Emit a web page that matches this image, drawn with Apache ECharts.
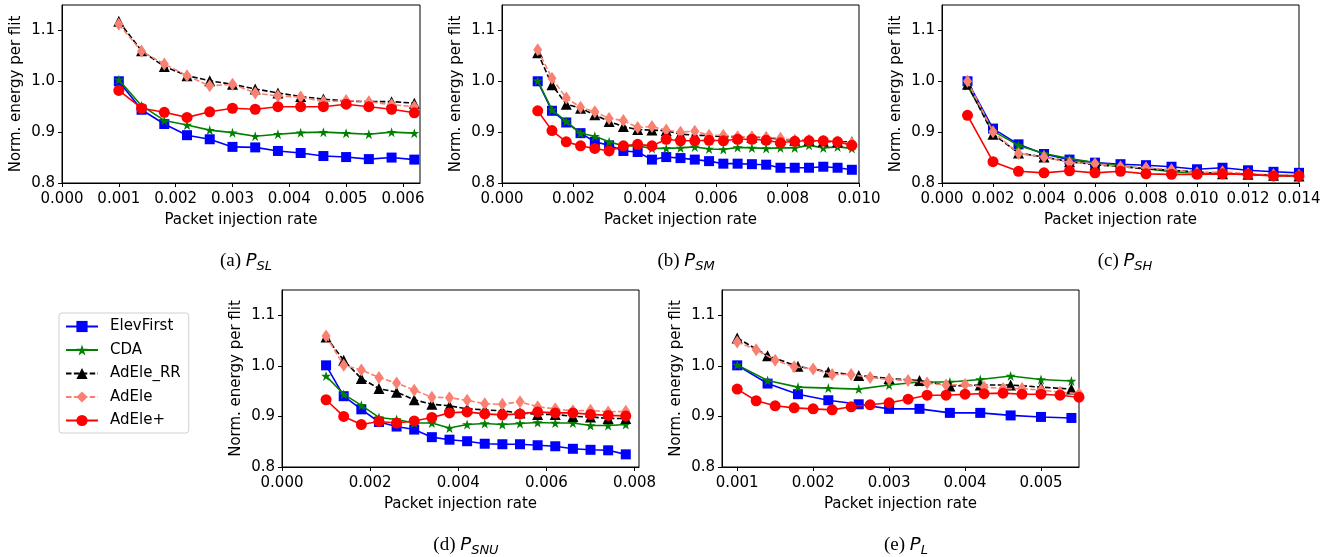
<!DOCTYPE html>
<html>
<head>
<meta charset="utf-8">
<script src="https://cdn.jsdelivr.net/npm/echarts@6/dist/echarts.min.js"></script>
<style>
  html, body { margin: 0; padding: 0; background: #fff; }
  #chart { width: 1336px; height: 557px; }
</style>
</head>
<body>
<div id="chart"></div>
<script>
// ---- data ----
var seriesNames = ['ElevFirst', 'CDA', 'AdEle_RR', 'AdEle', 'AdEle+'];

// (a) P_SL
var xA = [0.001, 0.0014, 0.0018, 0.0022, 0.0026, 0.003, 0.0034, 0.0038, 0.0042, 0.0046, 0.005, 0.0054, 0.0058, 0.0062];
var aElevFirst = [1.000, 0.944, 0.916, 0.894, 0.886, 0.871, 0.870, 0.863, 0.859, 0.853, 0.851, 0.847, 0.850, 0.846];
var aCDA = [1.003, 0.952, 0.923, 0.914, 0.904, 0.899, 0.892, 0.896, 0.899, 0.900, 0.898, 0.896, 0.900, 0.898];
var aRR = [1.118, 1.060, 1.029, 1.011, 1.001, 0.994, 0.985, 0.977, 0.970, 0.965, 0.961, 0.960, 0.960, 0.957];
var aAdEle = [1.112, 1.059, 1.034, 1.011, 0.991, 0.994, 0.977, 0.971, 0.969, 0.960, 0.962, 0.960, 0.954, 0.950];
var aPlus = [0.982, 0.947, 0.939, 0.929, 0.940, 0.947, 0.945, 0.950, 0.950, 0.950, 0.955, 0.950, 0.945, 0.938];

// (b) P_SM
var xB = [0.001, 0.0014, 0.0018, 0.0022, 0.0026, 0.003, 0.0034, 0.0038, 0.0042, 0.0046, 0.005, 0.0054, 0.0058, 0.0062, 0.0066, 0.007, 0.0074, 0.0078, 0.0082, 0.0086, 0.009, 0.0094, 0.0098];
var bElevFirst = [1.000, 0.942, 0.919, 0.898, 0.881, 0.874, 0.863, 0.861, 0.846, 0.851, 0.849, 0.846, 0.843, 0.838, 0.838, 0.837, 0.836, 0.830, 0.830, 0.830, 0.832, 0.830, 0.826];
var bCDA = [1.001, 0.944, 0.921, 0.898, 0.892, 0.881, 0.873, 0.873, 0.868, 0.868, 0.869, 0.871, 0.867, 0.866, 0.870, 0.869, 0.868, 0.869, 0.869, 0.874, 0.869, 0.871, 0.868];
var bRR = [1.056, 0.993, 0.955, 0.947, 0.934, 0.921, 0.911, 0.905, 0.904, 0.903, 0.896, 0.894, 0.893, 0.891, 0.891, 0.890, 0.889, 0.886, 0.884, 0.884, 0.882, 0.881, 0.881];
var bAdEle = [1.062, 1.006, 0.967, 0.949, 0.940, 0.927, 0.923, 0.909, 0.911, 0.904, 0.900, 0.902, 0.894, 0.894, 0.891, 0.891, 0.890, 0.888, 0.884, 0.884, 0.881, 0.881, 0.878];
var bPlus = [0.942, 0.903, 0.881, 0.873, 0.868, 0.863, 0.873, 0.876, 0.873, 0.886, 0.883, 0.883, 0.884, 0.883, 0.886, 0.886, 0.884, 0.879, 0.882, 0.883, 0.883, 0.881, 0.874];

// (c) P_SH
var xC = [0.001, 0.002, 0.003, 0.004, 0.005, 0.006, 0.007, 0.008, 0.009, 0.010, 0.011, 0.012, 0.013, 0.014];
var cElevFirst = [1.000, 0.907, 0.876, 0.857, 0.846, 0.840, 0.837, 0.835, 0.832, 0.827, 0.830, 0.825, 0.822, 0.820];
var cCDA = [0.991, 0.902, 0.874, 0.858, 0.848, 0.840, 0.834, 0.828, 0.822, 0.820, 0.818, 0.817, 0.815, 0.814];
var cRR = [0.994, 0.896, 0.859, 0.851, 0.842, 0.836, 0.832, 0.828, 0.825, 0.822, 0.818, 0.817, 0.815, 0.814];
var cAdEle = [1.000, 0.901, 0.858, 0.851, 0.840, 0.838, 0.832, 0.830, 0.826, 0.820, 0.822, 0.818, 0.816, 0.815];
var cPlus = [0.933, 0.842, 0.823, 0.820, 0.824, 0.820, 0.823, 0.818, 0.817, 0.817, 0.818, 0.817, 0.814, 0.814];

// (d) P_SNU
var xD = [0.001, 0.0014, 0.0018, 0.0022, 0.0026, 0.003, 0.0034, 0.0038, 0.0042, 0.0046, 0.005, 0.0054, 0.0058, 0.0062, 0.0066, 0.007, 0.0074, 0.0078];
var dElevFirst = [1.001, 0.940, 0.914, 0.889, 0.880, 0.874, 0.859, 0.854, 0.851, 0.846, 0.845, 0.845, 0.843, 0.841, 0.836, 0.834, 0.833, 0.825];
var dCDA = [0.980, 0.944, 0.922, 0.898, 0.894, 0.887, 0.887, 0.877, 0.884, 0.886, 0.884, 0.886, 0.888, 0.887, 0.887, 0.882, 0.882, 0.884];
var dRR = [1.057, 1.011, 0.975, 0.955, 0.948, 0.933, 0.924, 0.921, 0.915, 0.913, 0.911, 0.907, 0.904, 0.904, 0.900, 0.899, 0.896, 0.896];
var dAdEle = [1.059, 1.001, 0.992, 0.977, 0.966, 0.952, 0.938, 0.937, 0.932, 0.925, 0.924, 0.929, 0.919, 0.915, 0.911, 0.912, 0.909, 0.910];
var dPlus = [0.933, 0.900, 0.884, 0.890, 0.887, 0.891, 0.898, 0.907, 0.909, 0.905, 0.903, 0.905, 0.909, 0.907, 0.907, 0.904, 0.902, 0.901];

// (e) P_L  (two different sampling grids)
var xE1 = [0.001, 0.0014, 0.0018, 0.0022, 0.0026, 0.003, 0.0034, 0.0038, 0.0042, 0.0046, 0.005, 0.0054];
var xE2 = [0.001, 0.00125, 0.0015, 0.00175, 0.002, 0.00225, 0.0025, 0.00275, 0.003, 0.00325, 0.0035, 0.00375, 0.004, 0.00425, 0.0045, 0.00475, 0.005, 0.00525, 0.0055];
var eElevFirst = [1.001, 0.965, 0.944, 0.932, 0.924, 0.915, 0.915, 0.907, 0.907, 0.902, 0.899, 0.897];
var eCDA = [1.002, 0.971, 0.958, 0.956, 0.954, 0.962, 0.968, 0.968, 0.973, 0.980, 0.973, 0.970];
var eRR = [1.055, 1.020, 0.999, 0.988, 0.981, 0.975, 0.971, 0.960, 0.962, 0.962, 0.958, 0.954];
var eAdEle = [1.047, 1.032, 1.011, 0.998, 0.994, 0.983, 0.983, 0.977, 0.973, 0.971, 0.966, 0.962, 0.963, 0.958, 0.955, 0.955, 0.952, 0.948, 0.945];
var ePlus = [0.954, 0.931, 0.921, 0.917, 0.915, 0.913, 0.919, 0.923, 0.927, 0.934, 0.942, 0.942, 0.944, 0.945, 0.946, 0.944, 0.944, 0.942, 0.938];

// tick labels
var xTicksA = [0, 0.001, 0.002, 0.003, 0.004, 0.005, 0.006];
var xTicksB = [0, 0.002, 0.004, 0.006, 0.008, 0.010];
var xTicksC = [0, 0.002, 0.004, 0.006, 0.008, 0.010, 0.012, 0.014];
var xTicksD = [0, 0.002, 0.004, 0.006, 0.008];
var xTicksE = [0.001, 0.002, 0.003, 0.004, 0.005];
var yTicks = [0.8, 0.9, 1.0, 1.1];
// ----------------------------------

var chart = echarts.init(document.getElementById('chart'));

var FONT = 'DejaVu Sans';
var FS = 15;
var starPath = 'path://M100,0L122.5,69.1L195.1,69.1L136.3,111.8L158.8,180.9L100,138.2L41.2,180.9L63.7,111.8L4.9,69.1L77.5,69.1Z';

var styles = {
    'ElevFirst': {color: '#0000ff', symbol: 'rect', size: 10, dash: 'solid'},
    'CDA': {color: '#008000', symbol: starPath, size: 10, dash: 'solid'},
    'AdEle_RR': {color: '#000000', symbol: 'triangle', size: 11, dash: [5.5, 2.4]},
    'AdEle': {color: '#fa8072', symbol: 'diamond', size: [9, 13], dash: [5.5, 2.4]},
    'AdEle+': {color: '#ff0000', symbol: 'circle', size: 11, dash: 'solid'}
};

var grids = [
    {left: 62, top: 5, width: 358, height: 178},
    {left: 502, top: 5, width: 357, height: 178},
    {left: 942, top: 5, width: 357, height: 178},
    {left: 282, top: 290, width: 357, height: 177},
    {left: 722, top: 290, width: 357, height: 177}
];

var xRanges = [
    {min: 0, max: 0.0063, ticks: xTicksA},
    {min: 0, max: 0.010, ticks: xTicksB},
    {min: 0, max: 0.014, ticks: xTicksC},
    {min: 0, max: 0.0081, ticks: xTicksD},
    {min: 0.0008, max: 0.0055, ticks: xTicksE}
];

var panels = [
    [[xA, aElevFirst], [xA, aCDA], [xA, aRR], [xA, aAdEle], [xA, aPlus]],
    [[xB, bElevFirst], [xB, bCDA], [xB, bRR], [xB, bAdEle], [xB, bPlus]],
    [[xC, cElevFirst], [xC, cCDA], [xC, cRR], [xC, cAdEle], [xC, cPlus]],
    [[xD, dElevFirst], [xD, dCDA], [xD, dRR], [xD, dAdEle], [xD, dPlus]],
    [[xE1, eElevFirst], [xE1, eCDA], [xE1, eRR], [xE2, eAdEle], [xE2, ePlus]]
];

var captions = [
    {x: 241, y: 245, label: '(a) ', sub: 'SL'},
    {x: 681, y: 245, label: '(b) ', sub: 'SM'},
    {x: 1120, y: 245, label: '(c) ', sub: 'SH'},
    {x: 461, y: 529, label: '(d) ', sub: 'SNU'},
    {x: 901, y: 529, label: '(e) ', sub: 'L'}
];

function pairs(xs, ys) {
    return ys.map(function (y, i) { return [xs[i], y]; });
}

var xAxes = [], yAxes = [], series = [], titles = [];
grids.forEach(function (g, i) {
    g.show = true;
    g.borderColor = '#000';
    g.borderWidth = 1;
    g.containLabel = false;
    var r = xRanges[i];
    xAxes.push({
        type: 'value', gridIndex: i, min: r.min, max: r.max,
        name: 'Packet injection rate', nameLocation: 'middle', nameGap: 30,
        nameTextStyle: {fontFamily: FONT, fontSize: FS, color: '#000'},
        splitLine: {show: false},
        axisLine: {show: true, onZero: false, lineStyle: {color: '#000', width: 1}},
        axisTick: {show: true, length: 4, customValues: r.ticks, lineStyle: {color: '#000'}},
        axisLabel: {
            fontFamily: FONT, fontSize: FS, color: '#000', margin: 9,
            customValues: r.ticks,
            formatter: function (v) { return v.toFixed(3); }
        }
    });
    yAxes.push({
        type: 'value', gridIndex: i, min: 0.8, max: 1.15,
        name: 'Norm. energy per flit', nameLocation: 'middle', nameGap: 38,
        nameRotate: 90,
        nameTextStyle: {fontFamily: FONT, fontSize: FS, color: '#000'},
        splitLine: {show: false},
        axisLine: {show: true, onZero: false, lineStyle: {color: '#000', width: 1}},
        axisTick: {show: true, length: 4, customValues: yTicks, lineStyle: {color: '#000'}},
        axisLabel: {
            fontFamily: FONT, fontSize: FS, color: '#000', margin: 7,
            customValues: yTicks,
            formatter: function (v) { return v.toFixed(1); }
        }
    });
    panels[i].forEach(function (p, k) {
        var name = seriesNames[k], s = styles[name];
        series.push({
            name: name, type: 'line', xAxisIndex: i, yAxisIndex: i,
            data: pairs(p[0], p[1]),
            symbol: s.symbol, symbolSize: s.size, showAllSymbol: true,
            clip: true, z: 2 + k,
            itemStyle: {color: s.color},
            lineStyle: {color: s.color, width: 1.6, type: s.dash}
        });
    });
    var c = captions[i];
    titles.push({
        text: '{n|' + c.label + '}{p|P}{s|' + c.sub + '}',
        left: c.x, top: c.y, textAlign: 'center',
        textStyle: {
            fontWeight: 'normal',
            rich: {
                n: {fontFamily: 'Liberation Serif', fontWeight: 'normal', fontSize: 19, color: '#000'},
                p: {fontFamily: FONT, fontWeight: 'normal', fontStyle: 'italic', fontSize: 18, color: '#000'},
                s: {fontFamily: FONT, fontWeight: 'normal', fontStyle: 'italic', fontSize: 13, color: '#000', padding: [10, 0, 0, 0]}
            }
        }
    });
});

chart.setOption({
    animation: false,
    backgroundColor: '#fff',
    title: titles,
    grid: grids,
    xAxis: xAxes,
    yAxis: yAxes,
    legend: {
        data: seriesNames,
        orient: 'vertical',
        left: 59, top: 313,
        padding: [6, 8, 5, 6],
        itemWidth: 32, itemHeight: 14, itemGap: 8.5,
        borderColor: '#d0d0d0', borderWidth: 1, borderRadius: 3,
        textStyle: {fontFamily: FONT, fontSize: FS, color: '#000', padding: [0, 0, 0, 7]}
    },
    series: series
});
</script>
</body>
</html>
